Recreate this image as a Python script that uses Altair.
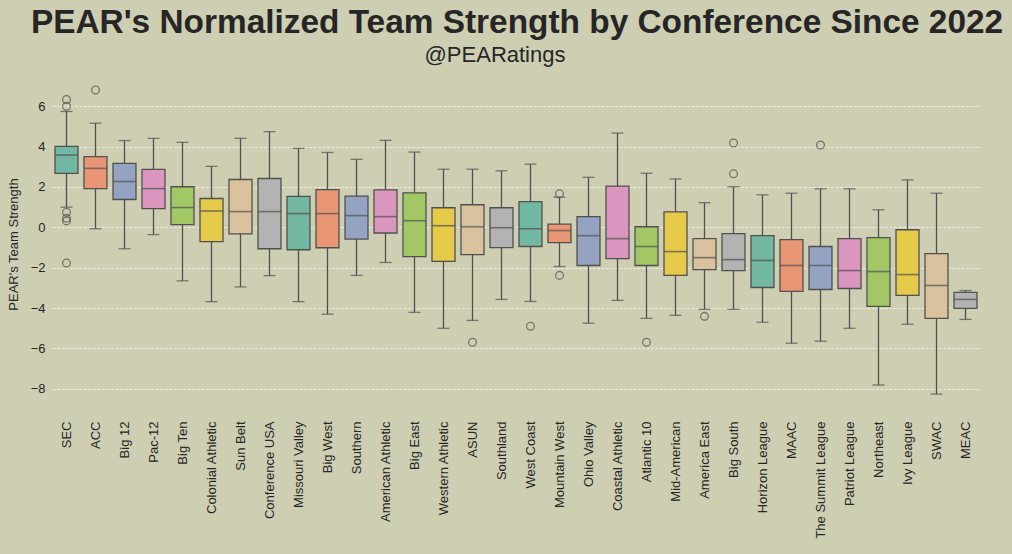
import altair as alt
import pandas as pd

conferences = ["SEC", "ACC", "Big 12", "Pac-12", "Big Ten", "Colonial Athletic", "Sun Belt",
               "Conference USA", "Missouri Valley", "Big West", "Southern", "American Athletic",
               "Big East", "Western Athletic", "ASUN", "Southland", "West Coast", "Mountain West",
               "Ohio Valley", "Coastal Athletic", "Atlantic 10", "Mid-American", "America East",
               "Big South", "Horizon League", "MAAC", "The Summit League", "Patriot League",
               "Northeast", "Ivy League", "SWAC", "MEAC"]

q1 = [2.67, 1.92, 1.38, 0.93, 0.13, -0.71, -0.32, -1.06, -1.11, -1.01, -0.58, -0.28,
      -1.45, -1.69, -1.35, -1.00, -0.95, -0.76, -1.89, -1.55, -1.89, -2.38, -2.09,
      -2.14, -2.98, -3.17, -3.08, -3.03, -3.91, -3.37, -4.51, -4.01]
median = [3.58, 2.92, 2.27, 1.92, 0.98, 0.81, 0.78, 0.78, 0.68, 0.68, 0.58, 0.53,
          0.33, 0.08, 0.03, -0.02, -0.07, -0.16, -0.41, -0.56, -0.95, -1.20, -1.50,
          -1.60, -1.64, -1.89, -1.89, -2.14, -2.19, -2.34, -2.88, -3.57]
q3 = [4.01, 3.50, 3.17, 2.87, 2.01, 1.43, 2.37, 2.42, 1.53, 1.87, 1.55, 1.86,
      1.71, 0.97, 1.12, 0.97, 1.27, 0.16, 0.53, 2.04, 0.03, 0.77, -0.56,
      -0.31, -0.41, -0.61, -0.95, -0.56, -0.51, -0.12, -1.30, -3.22]
whisker_low = [1.00, -0.07, -1.06, -0.36, -2.65, -3.68, -2.95, -2.39, -3.68, -4.30, -2.38, -1.74,
               -4.21, -5.00, -4.61, -3.57, -3.67, -1.94, -4.75, -3.62, -4.51, -4.36, -4.06,
               -4.06, -4.70, -5.74, -5.64, -5.00, -7.81, -4.80, -8.26, -4.56]
whisker_high = [5.74, 5.16, 4.30, 4.41, 4.21, 3.02, 4.41, 4.74, 3.91, 3.71, 3.37, 4.31,
                3.73, 2.88, 2.88, 2.80, 3.13, 1.50, 2.48, 4.67, 2.68, 2.40, 1.22,
                2.01, 1.61, 1.69, 1.91, 1.91, 0.87, 2.35, 1.69, -3.13]

outlier_conf = ["SEC", "SEC", "SEC", "SEC", "SEC", "SEC", "ACC", "ASUN", "West Coast",
                "Mountain West", "Mountain West", "Atlantic 10", "America East",
                "Big South", "Big South", "The Summit League"]
outlier_val = [6.33, 6.00, 0.75, 0.45, 0.32, -1.77, 6.80, -5.69, -4.90,
               1.66, -2.38, -5.69, -4.41, 4.18, 2.65, 4.08]

title_text = ["PEAR's Normalized Team Strength by Conference Since 2022"]
subtitle_text = ["@PEARatings"]

palette = ["#72B7A1", "#E99675", "#95A3C3", "#DB96C0", "#A2C865", "#E5C949", "#DBC29E", "#B3B3B3"]

box_df = pd.DataFrame({
    "conf": conferences, "q1": q1, "median": median, "q3": q3,
    "lo": whisker_low, "hi": whisker_high,
    "color": [palette[i % len(palette)] for i in range(len(conferences))],
})
out_df = pd.DataFrame({"conf": outlier_conf, "val": outlier_val})
title_df = pd.DataFrame({"t": title_text})
sub_df = pd.DataFrame({"t": subtitle_text})

edge = "#505050"
ydom = [-8.8, 7.15]
xenc = alt.X("conf:N", sort=conferences, title=None,
             scale=alt.Scale(paddingInner=0.2, paddingOuter=0.1),
             axis=alt.Axis(labelAngle=270, labelPadding=16, ticks=False, domain=False,
                           labelFontSize=13, labelColor="#262626", grid=False))
yscale = alt.Scale(domain=ydom, nice=False, zero=False)
yaxis = alt.Axis(values=[-8, -6, -4, -2, 0, 2, 4, 6], ticks=False, domain=False, grid=True,
                 gridColor="#FFFFFF", gridOpacity=0.75, gridDash=[3, 1.5], gridWidth=0.8,
                 labelFontSize=13, labelColor="#262626", labelPadding=7,
                 title="PEAR's Team Strength", titleFontSize=13, titleFontWeight="normal",
                 titleColor="#262626", titlePadding=10)

base = alt.Chart(box_df)

whiskers = base.mark_rule(color=edge, strokeWidth=1.3).encode(
    x=xenc,
    y=alt.Y("lo:Q", scale=yscale, axis=yaxis),
    y2="hi:Q",
)
boxes = base.mark_bar(size=23, stroke=edge, strokeWidth=1.3).encode(
    x=alt.X("conf:N", sort=conferences),
    y=alt.Y("q1:Q", scale=yscale),
    y2="q3:Q",
    color=alt.Color("color:N", scale=None, legend=None),
)
medians = base.mark_tick(size=23, thickness=1.6, color=edge).encode(
    x=alt.X("conf:N", sort=conferences),
    y=alt.Y("median:Q", scale=yscale),
)
caps_lo = base.mark_tick(size=12, thickness=1.3, color=edge).encode(
    x=alt.X("conf:N", sort=conferences),
    y=alt.Y("lo:Q", scale=yscale),
)
caps_hi = base.mark_tick(size=12, thickness=1.3, color=edge).encode(
    x=alt.X("conf:N", sort=conferences),
    y=alt.Y("hi:Q", scale=yscale),
)
outliers = alt.Chart(out_df).mark_point(shape="circle", size=60, filled=False,
                                        stroke=edge, strokeWidth=1.3).encode(
    x=alt.X("conf:N", sort=conferences),
    y=alt.Y("val:Q", scale=yscale),
)
title = alt.Chart(title_df).mark_text(
    font="Liberation Sans", fontSize=33.4, fontWeight="bold", color="#262626",
    align="center", baseline="alphabetic", clip=False,
).encode(text="t:N", x=alt.value(465), y=alt.value(-50))
subtitle = alt.Chart(sub_df).mark_text(
    font="Liberation Sans", fontSize=22, color="#262626", align="center",
    baseline="alphabetic", clip=False,
).encode(text="t:N", x=alt.value(443), y=alt.value(-21))

chart = alt.layer(whiskers, boxes, medians, caps_lo, caps_hi, outliers, title, subtitle).properties(
    width=928, height=322,
    autosize=alt.AutoSizeParams(type="none"),
    padding={"left": 52, "top": 83, "right": 32, "bottom": 149},
    background="#CECEB2",
).configure_view(stroke=None).configure_axis(
    labelFont="Liberation Sans", titleFont="Liberation Sans"
)

chart.save("out.html", embed_options={"renderer": "svg", "actions": False})
